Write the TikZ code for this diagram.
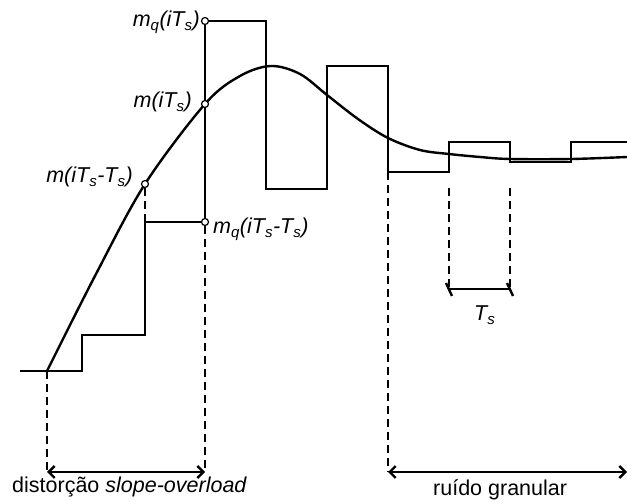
\documentclass[tikz,border=0pt]{standalone}
\usepackage{fontspec}
\setmainfont{Liberation Sans}
\usetikzlibrary{arrows.meta}
\begin{document}
\begin{tikzpicture}[x=1pt,y=-1pt,
  sig/.style={line width=2.4pt,line join=miter},
  guide/.style={line width=2.4pt,dash pattern=on 8pt off 5pt},
  dot/.style={circle,draw,fill=white,line width=1.2pt,inner sep=0pt,minimum size=7pt},
  lbl/.style={font=\fontsize{21.5}{24}\selectfont\itshape,inner sep=0pt},
  txt/.style={font=\fontsize{21.5}{24}\selectfont,inner sep=0pt},
  dim/.style={line width=2.4pt,{Straight Barb[length=6pt,width=12pt]}-{Straight Barb[length=6pt,width=12pt]}}]
\useasboundingbox (0,0) rectangle (627,502);
% staircase (quantized signal)
\draw[sig] (20,371) -- (82,371) -- (82,335) -- (145,335) -- (145,222) -- (205,222)
  -- (205,21) -- (266,21) -- (266,189) -- (327,189) -- (327,66) -- (388,66)
  -- (388,172) -- (449,172) -- (449,142) -- (510,142) -- (510,162) -- (571,162)
  -- (571,142) -- (627,142);
% message signal
\draw[sig] plot[smooth,tension=0.55] coordinates {(47,371) (96,274) (145,184) (205,104)
  (240,76) (271,66) (300,74) (327,95) (358,119) (388,138) (420,150) (449,154)
  (480,157) (510,159) (571,159) (627,157)};
% sample points
\node[dot] (mq) at (205,21) {};
\node[dot] (m) at (205,104) {};
\node[dot] (mp) at (145,184) {};
\node[dot] (mqp) at (205,222) {};
% guide coordinates
\coordinate (sp) at (145,222);
\coordinate (a0) at (47,371);
\coordinate (a0b) at (47,472);
\coordinate (a1b) at (205,472);
\coordinate (g0) at (388,172);
\coordinate (g0b) at (388,472);
\coordinate (g1) at (627,472);
\coordinate (t0) at (449,188);
\coordinate (t1) at (510,188);
\coordinate (t0b) at (449,289);
\coordinate (t1b) at (510,289);
% dashed guides
\draw[guide] (mp) -- (sp);
\draw[guide] (mqp) -- (a1b);
\draw[guide] (a0) -- (a0b);
\draw[guide] (g0) -- (g0b);
\draw[guide] (t0) -- (t0b);
\draw[guide] (t1) -- (t1b);
% dimension arrows
\draw[dim] (a0b) -- (a1b);
\draw[dim] (g0b) -- (g1);
\draw[line width=2.4pt] (t0b) -- (t1b);
\draw[line width=2.4pt] ([shift={(-3,-6)}]t0b) -- ([shift={(3,7)}]t0b);
\draw[line width=2.4pt] ([shift={(-3,-6)}]t1b) -- ([shift={(3,7)}]t1b);
% labels
\node[lbl,anchor=base east] (lmq) at (200,27) {m\textsubscript{q}(iT\textsubscript{s})};
\node[lbl,anchor=base east] (lm) at (192,108) {m(iT\textsubscript{s})};
\node[lbl,anchor=base east] (lmp) at (133,183) {m(iT\textsubscript{s}-T\textsubscript{s})};
\node[lbl,anchor=base west] (lmqp) at (213,234) {m\textsubscript{q}(iT\textsubscript{s}-T\textsubscript{s})};
\node[lbl,anchor=base west] (lts) at (474,321) {T\textsubscript{s}};
\node[txt,anchor=base west] (ld) at (12,493) {distorção \textit{slope-overload}};
\node[txt,anchor=base west] (lr) at (433,496) {ruído granular};
\end{tikzpicture}
\end{document}
